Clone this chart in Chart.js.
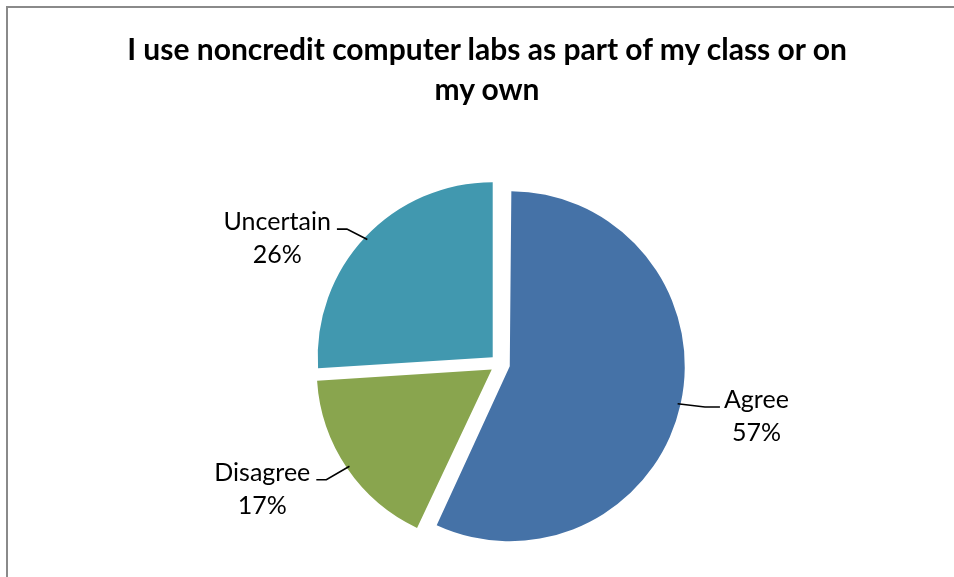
<!DOCTYPE html>
<html>
<head>
<meta charset="utf-8">
<script src="https://cdn.jsdelivr.net/npm/chart.js@4.4.1/dist/chart.umd.min.js"></script>
<style>
  html, body { margin: 0; padding: 0; background: #fff; overflow: hidden; }
  #frame { position: absolute; left: 6px; top: 6px; width: 1000px; height: 1000px; border: 2px solid #8a8a8a; }
  #title { position: absolute; left: 6px; top: 28px; width: 962px; text-align: center;
           font: bold 30px Lato, sans-serif; line-height: 40px; color: #000; }
  #wrap { position: absolute; left: 0; top: 0; width: 954px; height: 577px; }
</style>
</head>
<body>
<div id="frame"></div>
<div id="wrap"><canvas id="myChart" width="954" height="577"></canvas></div>
<div id="title">I use noncredit computer labs as part of my class or on<br>my own</div>
<script>
const categories = ['Agree', 'Disagree', 'Uncertain']
const shares = [57, 17, 26]

const sliceColors = ['#4572A7', '#89A54E', '#4198AF']
const explode = 40   // chart.js pulls each arc out by offset / 4

const total = shares.reduce((a, b) => a + b, 0)

// chart.js also grows the radius of a big slice by (offset/4)*fix when exploded,
// take that back so every slice keeps the same radius
const radiusFix = (arc) => {
    const circ = arc.endAngle - arc.startAngle
    const fix = 1 - Math.sin(Math.min(Math.PI, circ))
    return (arc.options.offset || 0) / 4 * fix
}

const sameRadius = {
    id: 'sameRadius',
    beforeDatasetsDraw(chart) {
        const meta = chart.getDatasetMeta(0)
        const base = meta.controller.outerRadius
        meta.data.forEach(arc => { arc.outerRadius = base - radiusFix(arc) })
    }
}

const pieLabels = {
    id: 'pieLabels',
    afterDatasetsDraw(chart) {
        const c = chart.ctx
        const meta = chart.getDatasetMeta(0)
        const r = meta.controller.outerRadius
        c.save()
        c.font = '25px Lato, sans-serif'
        c.fillStyle = '#000'
        c.strokeStyle = '#000'
        c.lineWidth = 1.6
        c.textBaseline = 'middle'
        meta.data.forEach((arc, i) => {
            const mid = (arc.startAngle + arc.endAngle) / 2
            const shift = (arc.options.offset || 0) / 4
            const dx = Math.cos(mid), dy = Math.sin(mid)
            const cx = arc.x + dx * shift
            const cy = arc.y + dy * shift
            const px = cx + dx * (r - 3)
            const py = cy + dy * (r - 3)
            const ex = px + dx * 28
            const ey = py + dy * 15 + (dy > 0.4 ? 5 : 0)
            const right = dx >= 0
            const endX = ex + (right ? 15 : -10)

            c.beginPath()
            c.moveTo(px, py)
            c.lineTo(ex, ey)
            c.lineTo(endX, ey)
            c.stroke()

            const lines = [categories[i], Math.round(shares[i] / total * 100) + '%']
            const w = Math.max(...lines.map(t => c.measureText(t).width))
            const center = right ? endX + 4 + w / 2 : endX - 6 - w / 2
            c.textAlign = 'center'
            c.fillText(lines[0], center, ey - 7)
            c.fillText(lines[1], center, ey + 26)
        })
        c.restore()
    }
}

const myChart = document.querySelector('#myChart').getContext('2d')

const pie = new Chart(myChart, {
    type: 'pie',
    data: {
        labels: categories,
        datasets: [{
            data: shares,
            backgroundColor: sliceColors,
            borderWidth: 0,
            offset: explode,
            hoverOffset: 0
        }]
    },
    options: {
        responsive: false,
        animation: false,
        devicePixelRatio: 1,
        layout: { padding: { left: 200, right: 154, top: 169, bottom: 18 } },
        plugins: {
            legend: { display: false },
            title: { display: false },
            tooltip: { enabled: false }
        }
    },
    plugins: [sameRadius, pieLabels]
})
</script>
</body>
</html>
